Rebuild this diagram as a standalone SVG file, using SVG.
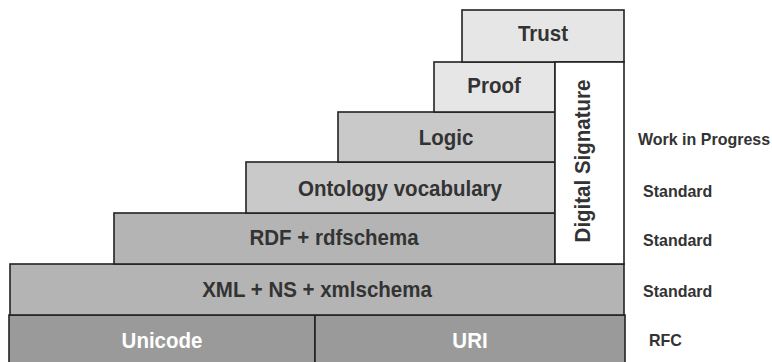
<svg xmlns="http://www.w3.org/2000/svg" width="772" height="362" viewBox="0 0 772 362">
<style>
.box{stroke:#222;stroke-width:1.6}
.l1{fill:#e6e6e6}
.l2{fill:#c9c9c9}
.l3{fill:#b4b4b4}
.l4{fill:#9a9a9a}
.sig{fill:#ffffff}
.t{font-family:"Liberation Sans",Arial,sans-serif;font-weight:bold;font-size:20.5px;fill:#333;text-anchor:middle}
.tw{fill:#fff}
.side{font-family:"Liberation Sans",Arial,sans-serif;font-weight:bold;font-size:16px;fill:#333}
</style>
<rect width="772" height="362" fill="#fff"/>
<g id="unicode"><rect class="box l4" x="9" y="315" width="306" height="50"/><text class="t tw" transform="translate(162,348) scale(1,1.08)">Unicode</text></g>
<g id="uri"><rect class="box l4" x="315" y="315" width="310" height="50"/><text class="t tw" transform="translate(470,348) scale(1,1.08)">URI</text></g>
<g id="xml"><rect class="box l3" x="10" y="264" width="614" height="51"/><text class="t" transform="translate(317,297) scale(1,1.08)">XML + NS + xmlschema</text></g>
<g id="rdf"><rect class="box l3" x="114" y="213" width="441" height="51"/><text class="t" transform="translate(334,245) scale(1,1.08)">RDF + rdfschema</text></g>
<g id="ontology"><rect class="box l2" x="246" y="162" width="309" height="51"/><text class="t" transform="translate(400,196) scale(1,1.08)">Ontology vocabulary</text></g>
<g id="logic"><rect class="box l2" x="338" y="112" width="217" height="50"/><text class="t" transform="translate(446,145) scale(1,1.08)">Logic</text></g>
<g id="proof"><rect class="box l1" x="434" y="62" width="121" height="50"/><text class="t" transform="translate(494,93) scale(1,1.08)">Proof</text></g>
<g id="trust"><rect class="box l1" x="462" y="10" width="162" height="52"/><text class="t" transform="translate(543,41) scale(1,1.08)">Trust</text></g>
<g id="signature"><rect class="box sig" x="555" y="62" width="69" height="202"/><text class="t" transform="translate(590,161) rotate(-90) scale(1,1.08)">Digital Signature</text></g>
<g id="labels">
<text class="side" transform="translate(638,145) scale(1,1.05)">Work in Progress</text>
<text class="side" transform="translate(643,197) scale(1,1.05)">Standard</text>
<text class="side" transform="translate(643,246) scale(1,1.05)">Standard</text>
<text class="side" transform="translate(643,297) scale(1,1.05)">Standard</text>
<text class="side" transform="translate(649,346) scale(1,1.05)">RFC</text>
</g>
<g id="connectors"></g>
</svg>
